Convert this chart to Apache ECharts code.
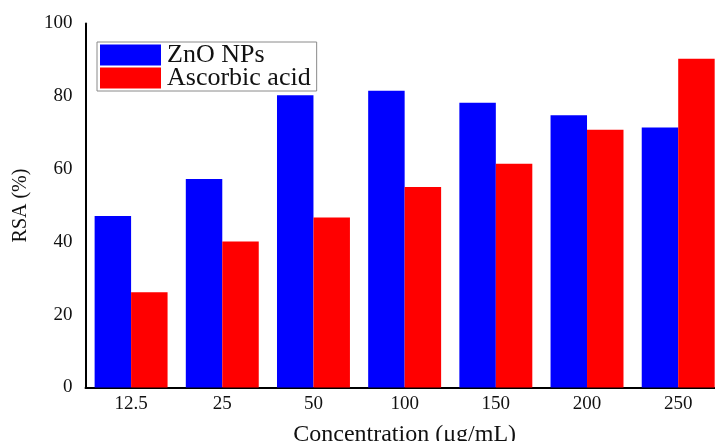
<!DOCTYPE html>
<html>
<head>
<meta charset="utf-8">
<script src="https://cdn.jsdelivr.net/npm/echarts@6/dist/echarts.min.js"></script>
<style>
html,body{margin:0;padding:0;background:#fff;}
#chart{width:715px;height:441px;}
</style>
</head>
<body>
<div id="chart"></div>
<script>
const categories = ['12.5', '25', '50', '100', '150', '200', '250'];
const znoValues = [47.1, 57.3, 80.3, 81.5, 78.2, 74.8, 71.4];
const ascorbicValues = [26.2, 40.1, 46.7, 55.1, 61.5, 70.8, 90.3];
const yTicks = [0, 20, 40, 60, 80, 100];

const font = '"Liberation Serif", "Times New Roman", serif';
const chart = echarts.init(document.getElementById('chart'), null, {renderer: 'canvas'});
chart.setOption({
  backgroundColor: '#ffffff',
  animation: false,
  grid: {left: 85.5, right: -8.8, top: 23.5, bottom: 53.5, containLabel: false, outerBoundsMode: 'none'},
  legend: {
    orient: 'vertical',
    left: 97, top: 42,
    padding: [0, 6, 0, 3],
    itemWidth: 61, itemHeight: 21, itemGap: -3,
    icon: 'rect',
    borderColor: '#8a8a8a', borderWidth: 1,
    textStyle: {fontFamily: font, fontSize: 26, lineHeight: 21, color: '#111', padding: [0, 0, 0, 1]},
    data: ['ZnO NPs', 'Ascorbic acid']
  },
  xAxis: {
    type: 'category',
    data: categories,
    name: 'Concentration (\u03bcg/mL)',
    nameLocation: 'middle',
    nameGap: 35,
    nameTextStyle: {fontFamily: font, fontSize: 24, color: '#111'},
    axisLine: {show: true, lineStyle: {color: '#000', width: 2}},
    axisTick: {show: false},
    axisLabel: {fontFamily: font, fontSize: 19, color: '#111', margin: 7},
    splitLine: {show: false}
  },
  yAxis: {
    type: 'value',
    min: yTicks[0], max: yTicks[yTicks.length - 1], interval: yTicks[1] - yTicks[0],
    name: 'RSA (%)',
    nameLocation: 'middle',
    nameGap: 55,
    nameTextStyle: {fontFamily: font, fontSize: 20, color: '#111'},
    axisLine: {show: true, lineStyle: {color: '#000', width: 2}},
    axisTick: {show: false},
    axisLabel: {fontFamily: font, fontSize: 19, color: '#111', margin: 13},
    splitLine: {show: false}
  },
  series: [
    {name: 'ZnO NPs', type: 'bar', data: znoValues, barGap: '0%', barCategoryGap: '20%',
     itemStyle: {color: '#0000ff'}},
    {name: 'Ascorbic acid', type: 'bar', data: ascorbicValues, barGap: '0%', barCategoryGap: '20%',
     itemStyle: {color: '#ff0000'}}
  ]
});
</script>
</body>
</html>
